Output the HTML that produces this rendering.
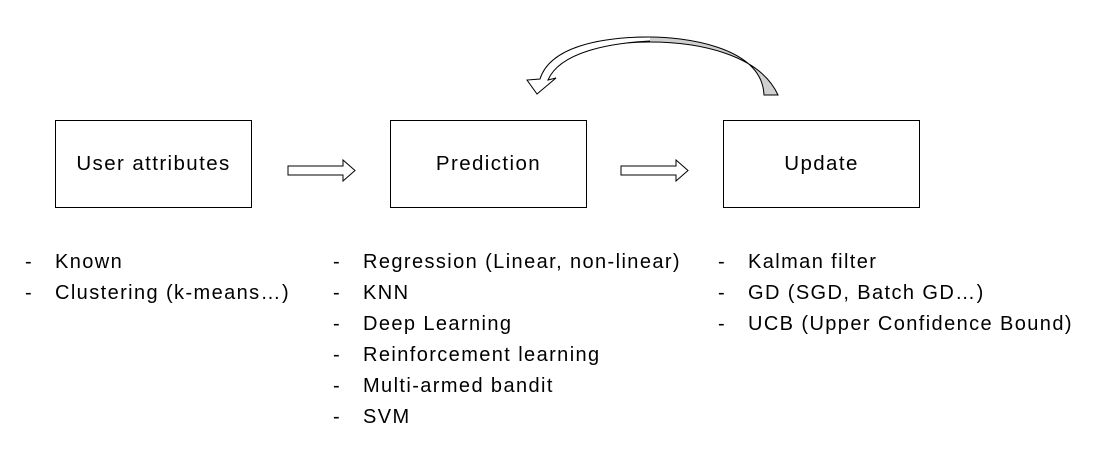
<!DOCTYPE html>
<html><head><style>
body{margin:0;width:1102px;height:455px;background:#fff;position:relative;font-family:"Liberation Sans",sans-serif;color:#000;overflow:hidden}
.box{position:absolute;border:1px solid #000;box-sizing:border-box;width:197px;height:88px;top:120px;display:flex;align-items:center;justify-content:center;font-size:20.5px;letter-spacing:1.4px}
.l{position:absolute;font-size:20px;line-height:31px;letter-spacing:1.4px}
.l div{position:relative;padding-left:30px;white-space:nowrap}
.l div:before{content:"-";position:absolute;left:0}
</style></head><body>
<div class="box" style="left:55px">User attributes</div>
<div class="box" style="left:390px">Prediction</div>
<div class="box" style="left:723px">Update</div>
<svg width="1102" height="455" style="position:absolute;left:0;top:0">
<polygon points="288,166 343,166 343,160 355,170.5 343,181 343,175 288,175" fill="#fff" stroke="#000" stroke-width="1"/>
<polygon points="621,166 676,166 676,160 688,170.5 676,181 676,175 621,175" fill="#fff" stroke="#000" stroke-width="1"/>
<path d="M764,95 C762,45 680,37 650,37 C600,37 560,50 555,78 L548,80 C560,50 610,42 650,42 C700,42 760,55 778,95 Z" fill="#d0d0d0" stroke="#000" stroke-width="1"/>
<path d="M555,78 C575,52 620,42 650,37 C600,37 560,48 548,80 Z" fill="#fff" stroke="none"/>
<path d="M650,37 C600,37 550,47 540,79 L527,80 L537,94 L556,78 L548,80 C560,52 610,43 650,41" fill="#fff" stroke="#000" stroke-width="1"/>
</svg>
<div class="l" style="left:25px;top:247px"><div>Known</div><div>Clustering (k-means…)</div></div>
<div class="l" style="left:333px;top:247px"><div>Regression (Linear, non-linear)</div><div>KNN</div><div>Deep Learning</div><div>Reinforcement learning</div><div>Multi-armed bandit</div><div>SVM</div></div>
<div class="l" style="left:718px;top:247px"><div>Kalman filter</div><div>GD (SGD, Batch GD…)</div><div>UCB (Upper Confidence Bound)</div></div>
</body></html>
